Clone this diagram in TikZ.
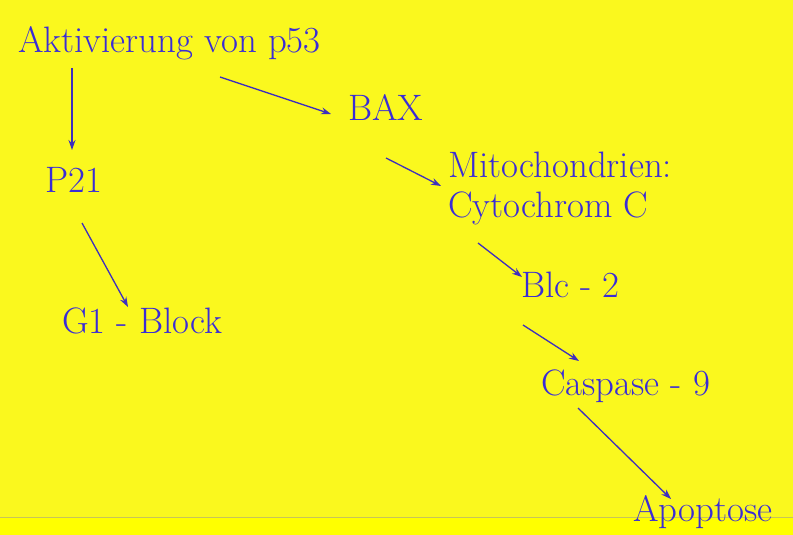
\documentclass[tikz,border=0pt]{standalone}
\usetikzlibrary{arrows.meta}
\definecolor{bgyel}{RGB}{250,248,30}
\definecolor{bgyel2}{RGB}{255,255,0}
\definecolor{txtblue}{RGB}{58,44,214}
\definecolor{arrblue}{RGB}{62,46,190}
\definecolor{rulegray}{RGB}{200,196,90}
\tikzset{
  lbl/.style={anchor=base west, inner sep=0pt, text=txtblue, font=\fontsize{36.8}{41}\selectfont},
  arr/.style={draw=arrblue, line width=1.3pt, -{Stealth[length=10pt,width=7pt]}}
}
\begin{document}
\begin{tikzpicture}[x=1pt,y=-1pt]
\useasboundingbox (0,0) rectangle (793,535);
\fill[bgyel] (0,0) rectangle (793,517);
\fill[bgyel2] (0,517) rectangle (793,535);
\draw[rulegray, line width=0.8pt] (0,517) -- (793,517);

\node[lbl] (akt) at (18,53) {Aktivierung von p53};
\node[lbl] (bax) at (348,121) {BAX};
\node[lbl] (p21) at (45,192) {P21};
\node[lbl] (mito) at (448,177) {Mitochondrien:};
\node[lbl] (cyto) at (448,217) {Cytochrom C};
\node[lbl] (blc) at (521,297) {Blc - 2};
\node[lbl] (g1) at (62,333) {G1 - Block};
\node[lbl] (casp) at (541,395) {Caspase - 9};
\node[lbl] (apo) at (633,521) {Apoptose};

\coordinate (a1s) at (72,68);  \coordinate (a1e) at (72,150);
\coordinate (a2s) at (220,77); \coordinate (a2e) at (331,114);
\coordinate (a3s) at (386,158); \coordinate (a3e) at (441,186);
\coordinate (a4s) at (82,223); \coordinate (a4e) at (128,307);
\coordinate (a5s) at (478,243); \coordinate (a5e) at (522,277);
\coordinate (a6s) at (523,325); \coordinate (a6e) at (579,361);
\coordinate (a7s) at (578,408); \coordinate (a7e) at (671,499);

\draw[arr] (a1s) -- (a1e);
\draw[arr] (a2s) -- (a2e);
\draw[arr] (a3s) -- (a3e);
\draw[arr] (a4s) -- (a4e);
\draw[arr] (a5s) -- (a5e);
\draw[arr] (a6s) -- (a6e);
\draw[arr] (a7s) -- (a7e);
\end{tikzpicture}
\end{document}
